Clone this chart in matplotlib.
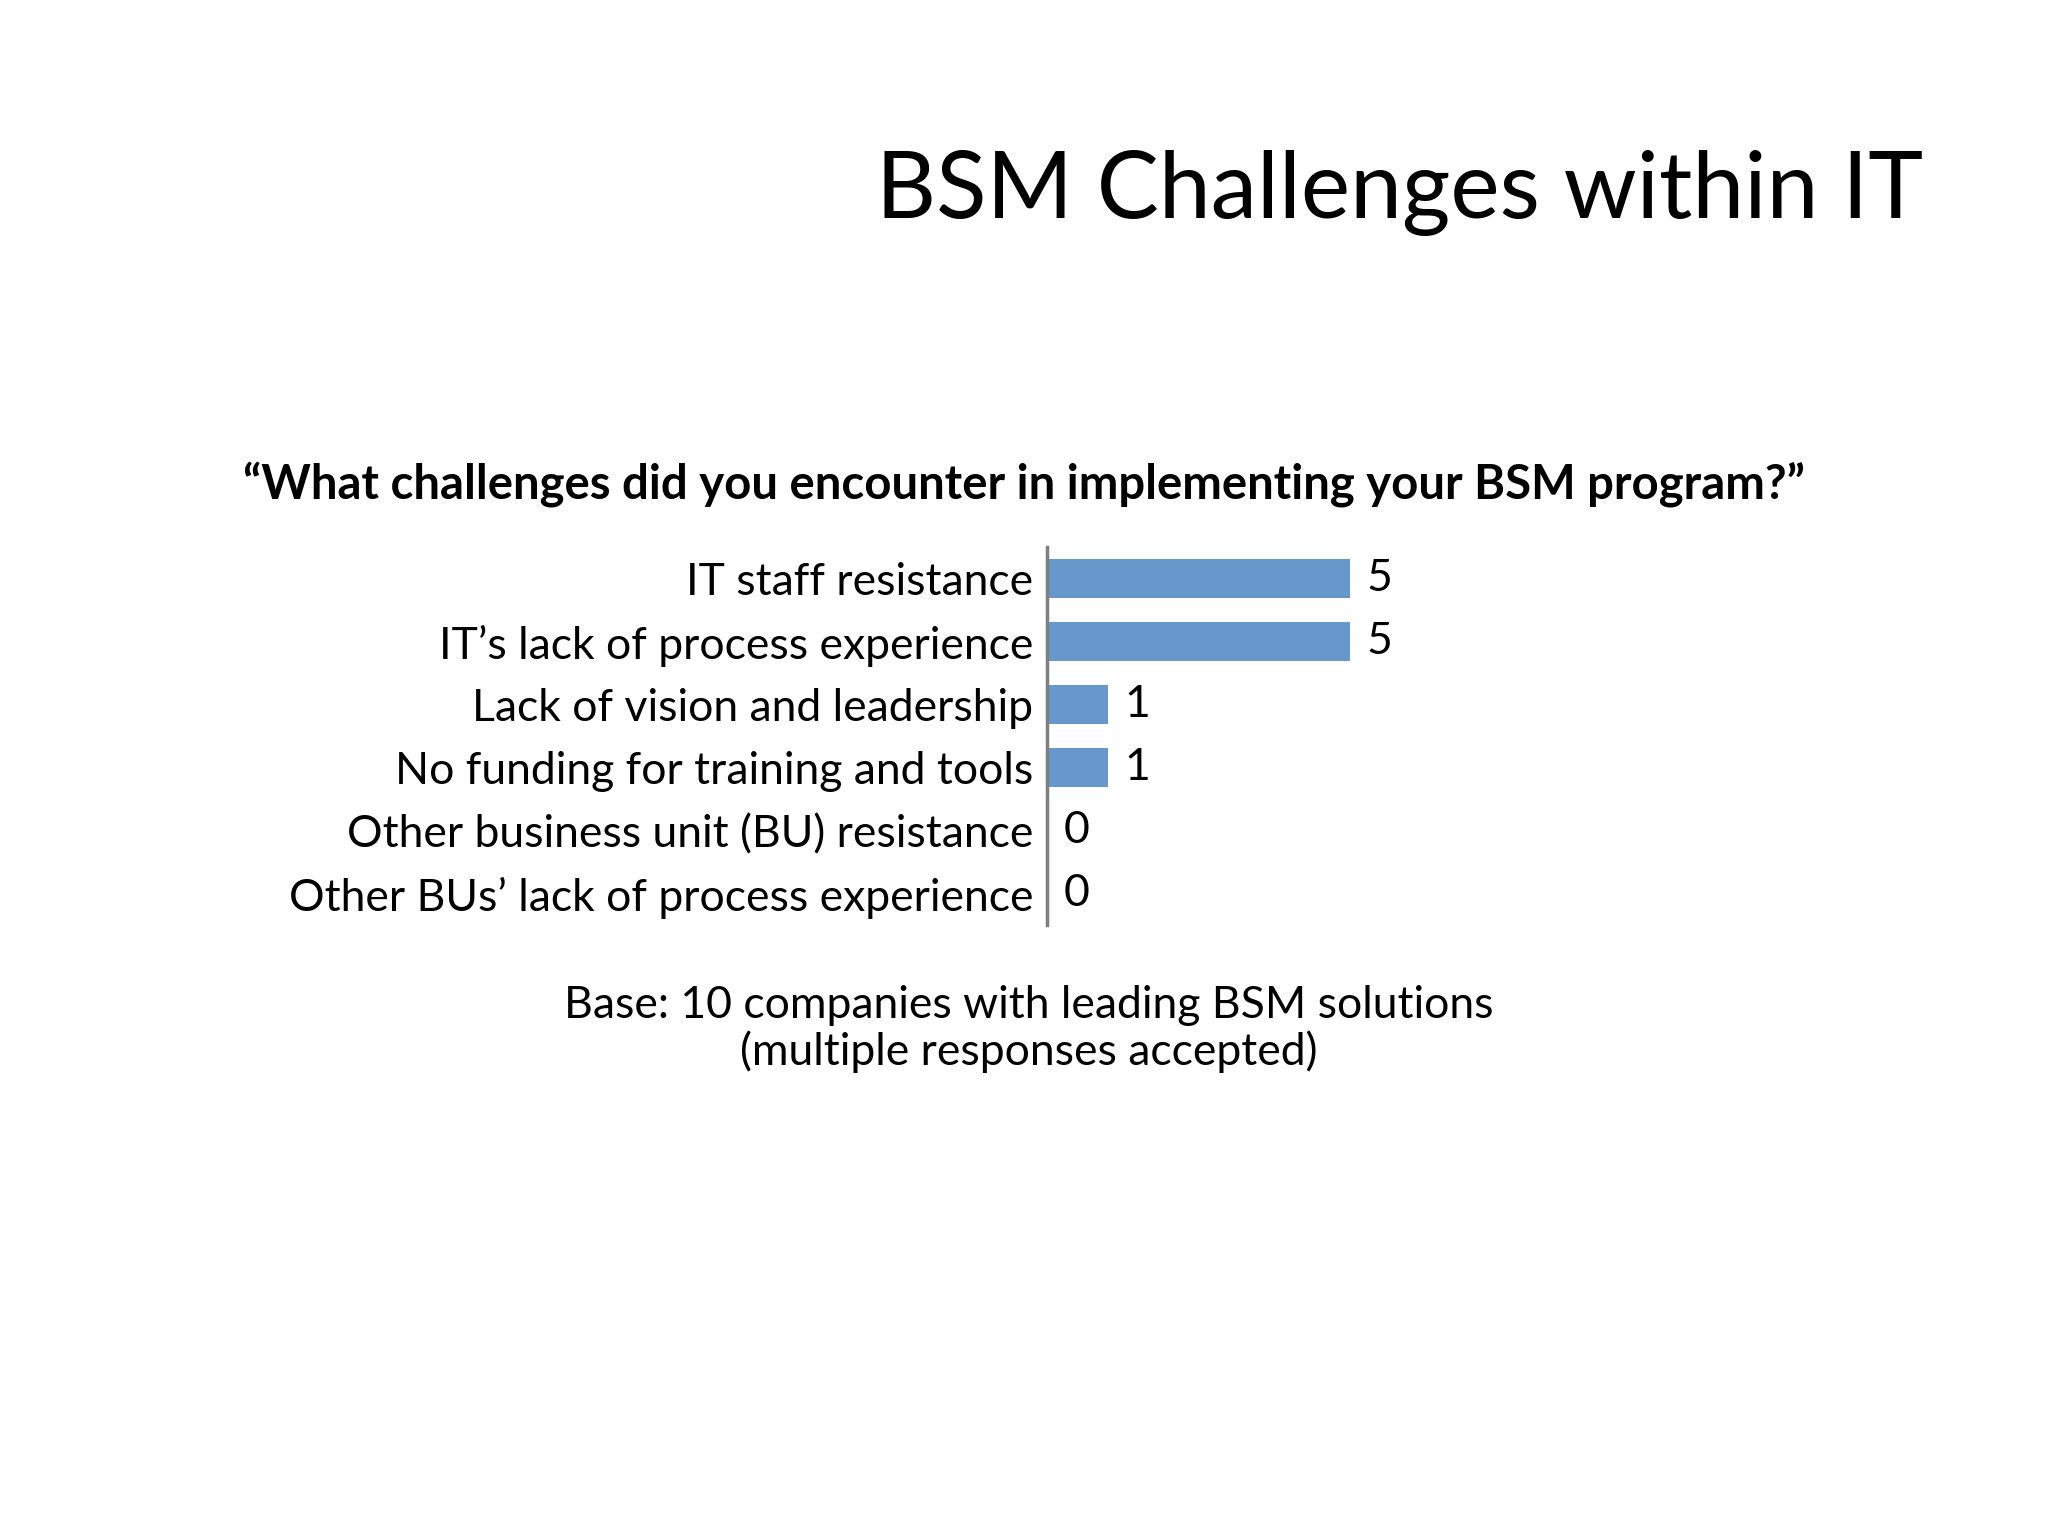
import matplotlib
matplotlib.use("Agg")
import matplotlib.pyplot as plt

# data
categories = [
    "IT staff resistance",
    "IT\u2019s lack of process experience",
    "Lack of vision and leadership",
    "No funding for training and tools",
    "Other business unit (BU) resistance",
    "Other BUs\u2019 lack of process experience",
]
counts = [5, 5, 1, 1, 0, 0]

slide_title = "BSM Challenges within IT"
question = "\u201cWhat challenges did you encounter in implementing your BSM program?\u201d"
base_note = "Base: 10 companies with leading BSM solutions\n(multiple responses accepted)"

plt.rcParams['font.family'] = ['Lato', 'DejaVu Sans']

fig = plt.figure(figsize=(20.48, 15.36), dpi=100)
fig.patch.set_facecolor('white')

fig.text(1923/2048, 1 - 193/1536, slide_title, ha='right', va='center',
         fontsize=67, color='black')
fig.text(1024/2048, 1 - 484/1536, question, ha='center', va='center',
         fontsize=34, fontweight='bold', color='black')
fig.text(1029/2048, 1 - 1029/1536, base_note, ha='center', va='center',
         fontsize=32, color='black', linespacing=1.12)

ax = fig.add_axes([1047/2048, 1 - 925/1536, 606/2048, 378/1536])
ypos = list(range(len(categories)))
ax.barh(ypos, counts, height=0.61, color='#6798cb', edgecolor='none')
ax.set_xlim(0, 10)
ax.set_ylim(len(categories) - 0.5, -0.5)

ax.set_yticks(ypos)
ax.set_yticklabels(categories, fontsize=32)
ax.tick_params(axis='y', length=0, pad=10)
ax.set_xticks([])

for s in ['top', 'right', 'bottom']:
    ax.spines[s].set_visible(False)
ax.spines['left'].set_color('#7f7f7f')
ax.spines['left'].set_linewidth(2.5)

for y, v in zip(ypos, counts):
    ax.annotate(str(v), xy=(v, y), xytext=(12, 0), textcoords='offset points',
                ha='left', va='center', fontsize=32)

fig.savefig('out.png', dpi=100, facecolor='white')
